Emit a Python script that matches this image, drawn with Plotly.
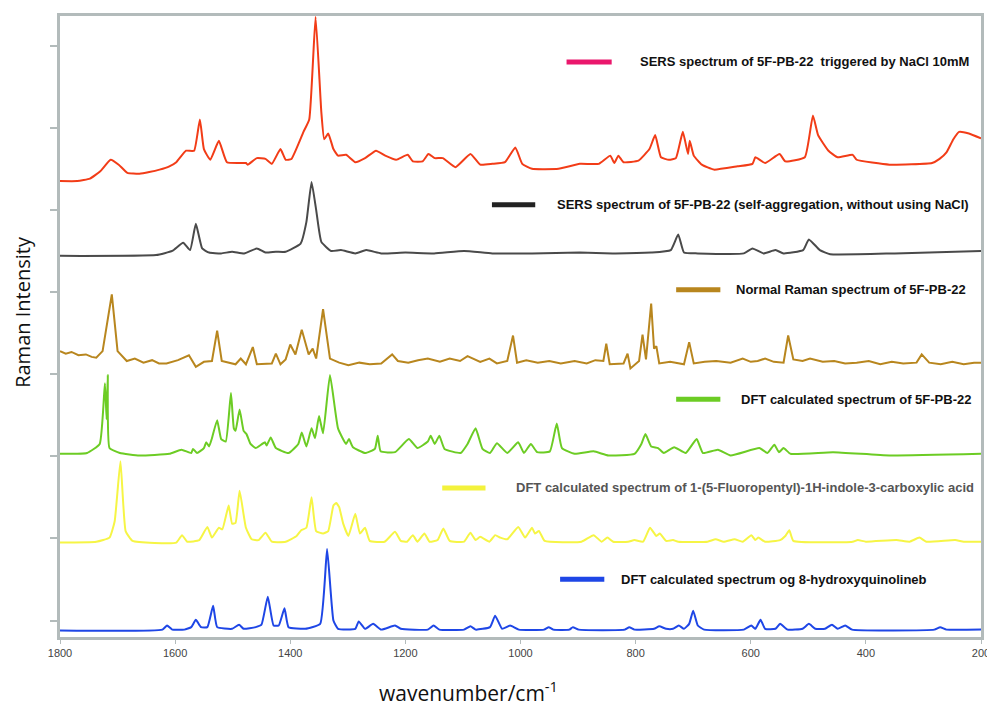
import plotly.graph_objects as go

# ---------------- data ----------------
x_ticks = [1800, 1600, 1400, 1200, 1000, 800, 600, 400, 200]
y_ticks = [0, 1, 2, 3, 4, 5, 6, 7]

red_wn = [1800, 1770, 1748, 1730, 1712, 1698, 1683, 1662, 1645, 1627, 1610, 1598, 1581, 1567,
          1557, 1550, 1539, 1524, 1510, 1477, 1474, 1458, 1443, 1432, 1417, 1408, 1398, 1377,
          1367, 1356, 1346, 1341, 1334, 1325, 1317, 1303, 1287, 1270, 1251, 1235, 1216, 1196,
          1187, 1170, 1160, 1149, 1135, 1113, 1087, 1070, 1049, 1027, 1009, 997, 980, 934, 897,
          864, 844, 837, 830, 821, 795, 776, 766, 756, 742, 730, 718, 709, 706, 699, 685, 664,
          623, 597, 592, 575, 550, 540, 506, 492, 483, 465, 449, 423, 416, 359, 285, 272, 260,
          248, 238, 221, 200]
red_val = [5.35, 5.35, 5.38, 5.47, 5.61, 5.55, 5.45, 5.44, 5.46, 5.49, 5.53, 5.58, 5.72, 5.72,
           6.10, 5.74, 5.61, 5.84, 5.58, 5.57, 5.55, 5.63, 5.62, 5.56, 5.74, 5.61, 5.62, 5.95,
           6.10, 7.35, 6.19, 5.86, 5.93, 5.74, 5.66, 5.67, 5.58, 5.63, 5.72, 5.66, 5.61, 5.67,
           5.59, 5.59, 5.68, 5.63, 5.63, 5.52, 5.68, 5.55, 5.56, 5.58, 5.76, 5.56, 5.50, 5.50,
           5.56, 5.56, 5.66, 5.57, 5.66, 5.58, 5.60, 5.74, 5.91, 5.64, 5.61, 5.63, 5.95, 5.68,
           5.84, 5.66, 5.55, 5.49, 5.53, 5.56, 5.64, 5.57, 5.68, 5.59, 5.64, 6.15, 5.91, 5.72,
           5.64, 5.67, 5.61, 5.55, 5.57, 5.62, 5.70, 5.86, 5.95, 5.93, 5.87]

black_wn = [1800, 1633, 1605, 1586, 1574, 1564, 1553, 1541, 1520, 1501, 1480, 1458, 1443, 1425,
            1408, 1382, 1372, 1363, 1355, 1346, 1329, 1312, 1287, 1268, 1242, 1200, 1150, 1098,
            1049, 980, 897, 840, 773, 739, 726, 716, 692, 612, 597, 578, 557, 543, 509, 499, 480,
            462, 350, 200]
black_val = [4.44, 4.45, 4.50, 4.60, 4.51, 4.83, 4.53, 4.48, 4.47, 4.49, 4.47, 4.53, 4.48, 4.49,
             4.49, 4.59, 4.85, 5.34, 5.00, 4.61, 4.50, 4.51, 4.47, 4.51, 4.47, 4.48, 4.47, 4.50,
             4.47, 4.47, 4.48, 4.47, 4.48, 4.51, 4.70, 4.48, 4.47, 4.47, 4.53, 4.47, 4.51, 4.47,
             4.51, 4.64, 4.51, 4.46, 4.47, 4.50]

brown_wn = [1800, 1790, 1780, 1768, 1755, 1745, 1737, 1726, 1710, 1700, 1684, 1670, 1655, 1640,
            1628, 1615, 1595, 1576, 1564, 1550, 1536, 1527, 1519, 1495, 1486, 1477, 1465, 1458,
            1432, 1425, 1417, 1408, 1400, 1391, 1380, 1368, 1361, 1355, 1343, 1331, 1315, 1299,
            1280, 1262, 1242, 1223, 1213, 1195, 1178, 1161, 1140, 1123, 1105, 1092, 1070, 1054,
            1041, 1023, 1013, 1006, 990, 970, 950, 930, 906, 885, 870, 856, 851, 845, 821, 814,
            809, 794, 788, 782, 773, 768, 764, 759, 740, 716, 707, 699, 680, 660, 635, 614, 600,
            588, 575, 560, 543, 535, 526, 510, 497, 475, 455, 436, 416, 395, 375, 355, 335, 312,
            303, 290, 270, 250, 230, 212, 200]
brown_val = [3.28, 3.25, 3.27, 3.23, 3.24, 3.21, 3.20, 3.28, 3.97, 3.28, 3.16, 3.19, 3.14, 3.17,
             3.13, 3.13, 3.17, 3.23, 3.09, 3.15, 3.16, 3.53, 3.16, 3.12, 3.19, 3.12, 3.33, 3.12,
             3.13, 3.25, 3.12, 3.18, 3.36, 3.24, 3.54, 3.24, 3.31, 3.19, 3.79, 3.19, 3.14, 3.11,
             3.14, 3.12, 3.13, 3.24, 3.16, 3.14, 3.17, 3.19, 3.15, 3.19, 3.16, 3.22, 3.15, 3.19,
             3.13, 3.16, 3.47, 3.14, 3.17, 3.14, 3.16, 3.13, 3.16, 3.13, 3.17, 3.16, 3.37, 3.12,
             3.13, 3.25, 3.07, 3.16, 3.48, 3.18, 3.86, 3.31, 3.34, 3.13, 3.15, 3.12, 3.39, 3.13,
             3.15, 3.16, 3.14, 3.19, 3.15, 3.16, 3.19, 3.15, 3.14, 3.47, 3.18, 3.16, 3.19, 3.15,
             3.16, 3.13, 3.14, 3.16, 3.12, 3.15, 3.13, 3.14, 3.24, 3.14, 3.12, 3.15, 3.12, 3.14,
             3.14]

green_wn = [1800, 1753, 1731, 1722, 1719, 1717, 1714, 1696, 1662, 1610, 1589, 1572, 1569, 1562,
            1550, 1546, 1541, 1536, 1527, 1520, 1512, 1503, 1498, 1495, 1488, 1481, 1476, 1469,
            1460, 1444, 1441, 1434, 1425, 1403, 1386, 1380, 1372, 1363, 1357, 1350, 1343, 1331,
            1317, 1303, 1298, 1291, 1270, 1253, 1248, 1243, 1218, 1194, 1179, 1161, 1156, 1149,
            1141, 1132, 1104, 1092, 1078, 1066, 1053, 1041, 1023, 1004, 994, 982, 971, 949, 937,
            928, 906, 873, 847, 802, 790, 783, 773, 761, 751, 733, 713, 694, 683, 657, 635, 585,
            571, 559, 551, 543, 531, 457, 359, 200]
green_val = [2.03, 2.04, 2.15, 2.89, 2.45, 2.99, 2.10, 2.04, 2.01, 2.03, 2.08, 2.04, 2.09, 2.04,
             2.10, 2.17, 2.12, 2.22, 2.44, 2.21, 2.18, 2.77, 2.34, 2.31, 2.57, 2.31, 2.27, 2.15,
             2.10, 2.17, 2.13, 2.23, 2.10, 2.04, 2.15, 2.29, 2.12, 2.34, 2.22, 2.49, 2.28, 2.99,
             2.34, 2.15, 2.21, 2.11, 2.04, 2.09, 2.25, 2.06, 2.05, 2.21, 2.10, 2.18, 2.25, 2.15,
             2.25, 2.09, 2.04, 2.15, 2.34, 2.09, 2.04, 2.16, 2.04, 2.17, 2.04, 2.15, 2.05, 2.06,
             2.40, 2.10, 2.03, 2.06, 2.01, 2.03, 2.15, 2.27, 2.12, 2.10, 2.04, 2.11, 2.04, 2.21,
             2.04, 2.08, 2.01, 2.10, 2.04, 2.14, 2.05, 2.10, 2.03, 2.05, 2.01, 2.03]

yellow_wn = [1800, 1737, 1714, 1705, 1695, 1686, 1674, 1598, 1588, 1579, 1558, 1544, 1536, 1524,
             1518, 1507, 1501, 1495, 1488, 1477, 1467, 1455, 1443, 1432, 1408, 1389, 1381, 1372,
             1363, 1355, 1343, 1334, 1325, 1320, 1315, 1308, 1299, 1287, 1279, 1270, 1262, 1236,
             1218, 1208, 1197, 1187, 1179, 1167, 1158, 1144, 1134, 1123, 1098, 1087, 1078, 1070,
             1054, 1044, 1035, 1023, 1004, 992, 980, 975, 968, 958, 894, 873, 859, 849, 839, 813,
             802, 787, 775, 764, 758, 747, 735, 726, 675, 661, 647, 628, 614, 599, 592, 587, 575,
             549, 540, 533, 526, 423, 414, 400, 347, 324, 307, 295, 245, 230, 200]
yellow_val = [0.95, 0.96, 1.01, 1.21, 1.94, 1.09, 0.97, 0.95, 1.04, 0.96, 0.98, 1.14, 1.01, 1.13,
              1.11, 1.40, 1.18, 1.19, 1.58, 1.13, 0.99, 0.98, 1.07, 0.96, 0.96, 1.03, 1.10, 1.13,
              1.50, 1.09, 1.06, 1.09, 1.40, 1.43, 1.38, 1.18, 1.03, 1.30, 1.06, 1.13, 0.97, 0.96,
              1.08, 0.97, 0.96, 1.04, 0.96, 1.06, 0.96, 0.98, 1.12, 0.97, 0.96, 1.07, 0.98, 1.02,
              0.96, 1.04, 1.01, 0.99, 1.14, 1.01, 1.13, 1.06, 1.09, 0.97, 0.96, 1.04, 0.96, 1.01,
              0.96, 0.96, 0.98, 0.96, 1.13, 1.03, 1.06, 0.97, 0.98, 0.96, 0.96, 0.99, 0.96, 0.99,
              0.96, 1.04, 0.98, 1.01, 0.96, 0.98, 1.03, 1.10, 0.97, 0.96, 0.98, 0.96, 0.98, 0.96,
              1.01, 0.96, 0.98, 0.96, 0.96]

blue_wn = [1800, 1622, 1614, 1605, 1584, 1572, 1564, 1555, 1544, 1534, 1527, 1501, 1489, 1481,
           1460, 1450, 1439, 1429, 1420, 1410, 1403, 1374, 1348, 1336, 1325, 1317, 1287, 1281,
           1270, 1256, 1242, 1218, 1208, 1161, 1151, 1141, 1098, 1087, 1078, 1053, 1044, 1032,
           1018, 1003, 959, 951, 943, 915, 909, 899, 819, 811, 802, 768, 759, 747, 735, 725, 716,
           707, 700, 692, 681, 612, 599, 592, 583, 575, 557, 549, 536, 510, 499, 488, 471, 459,
           449, 436, 424, 281, 271, 260, 200]
blue_val = [-0.12, -0.11, -0.06, -0.11, -0.11, -0.08, 0.01, -0.08, -0.08, 0.18, -0.08, -0.10,
            -0.05, -0.10, -0.08, -0.05, 0.29, -0.06, -0.06, 0.15, -0.08, -0.10, -0.04, 0.87, 0.00,
            -0.10, -0.10, -0.01, -0.10, -0.04, -0.11, -0.06, -0.10, -0.11, -0.06, -0.11, -0.11,
            -0.07, -0.11, -0.08, 0.06, -0.10, -0.06, -0.11, -0.11, -0.08, -0.11, -0.11, -0.08,
            -0.11, -0.11, -0.08, -0.11, -0.10, -0.07, -0.10, -0.10, -0.06, -0.10, -0.04, 0.12,
            -0.06, -0.11, -0.11, -0.06, -0.10, 0.01, -0.10, -0.10, -0.04, -0.11, -0.10, -0.04,
            -0.10, -0.10, -0.05, -0.10, -0.06, -0.11, -0.11, -0.08, -0.11, -0.11]

labels = [
    "SERS spectrum of 5F-PB-22  triggered by NaCl 10mM",
    "SERS spectrum of 5F-PB-22 (self-aggregation, without using NaCl)",
    "Normal Raman spectrum of 5F-PB-22",
    "DFT calculated spectrum of 5F-PB-22",
    "DFT calculated spectrum of 1-(5-Fluoropentyl)-1H-indole-3-carboxylic acid",
    "DFT calculated spectrum og 8-hydroxyquinolineb",
]

# ---------------- styling ----------------
line_colors = ["#f23c17", "#4a4a4a", "#b8861e", "#6ccc24", "#f6f545", "#1e46e6"]
line_shapes = ["spline", "spline", "linear", "spline", "spline", "spline"]
key_colors = ["#ea176c", "#222222", "#b8861e", "#6ccc24", "#f3f23c", "#1e46e6"]
text_colors = ["#111111", "#111111", "#111111", "#111111", "#555555", "#111111"]
# legend key positions in paper coordinates: (x0, x1, y, text_right_x)
key_pos = [
    (0.550, 0.599, 0.926, 0.989),
    (0.469, 0.516, 0.696, 0.989),
    (0.669, 0.717, 0.559, 0.986),
    (0.669, 0.717, 0.383, 0.991),
    (0.415, 0.462, 0.240, 0.995),
    (0.543, 0.591, 0.093, 0.944),
]

series = [(red_wn, red_val), (black_wn, black_val), (brown_wn, brown_val),
          (green_wn, green_val), (yellow_wn, yellow_val), (blue_wn, blue_val)]

fig = go.Figure()
for (wn, val), col, shp, name in zip(series, line_colors, line_shapes, labels):
    fig.add_trace(go.Scatter(x=wn, y=val, mode="lines", name=name,
                             line=dict(color=col, width=2, shape=shp, smoothing=0.4),
                             showlegend=False))

label_font = "Liberation Sans, Arial, sans-serif"
for (x0, x1, y, tx), kc, tc, lab in zip(key_pos, key_colors, text_colors, labels):
    fig.add_shape(type="line", xref="paper", yref="paper", x0=x0, x1=x1, y0=y, y1=y,
                  line=dict(color=kc, width=5))
    fig.add_annotation(xref="paper", yref="paper", x=tx, y=y, text="<b>%s</b>" % lab,
                       showarrow=False, xanchor="right", yanchor="middle",
                       font=dict(family=label_font, size=13, color=tc))

fig.add_annotation(xref="paper", yref="paper", x=-0.041, y=0.524, text="Raman Intensity",
                   textangle=-90, showarrow=False, xanchor="center", yanchor="middle",
                   font=dict(family="Open Sans, sans-serif", size=20, color="#111111"))
fig.add_annotation(xref="paper", yref="paper", x=0.443, y=-0.087,
                   text="wavenumber/cm<sup>-1</sup>", showarrow=False,
                   xanchor="center", yanchor="middle",
                   font=dict(family="Open Sans, sans-serif", size=21, color="#111111"))

axis_gray = "#b3bbbb"
# the page body keeps its default 8px margin, so the figure sits at (8, 8)
# and ends exactly at the window's right/bottom edges
fig.update_layout(
    width=987, height=698,
    margin=dict(l=52, r=8, t=5, b=69),
    paper_bgcolor="white", plot_bgcolor="white",
    xaxis=dict(range=[1800, 200], tickvals=x_ticks, ticktext=[str(v) for v in x_ticks],
               showgrid=False, zeroline=False, showline=True, linecolor=axis_gray,
               linewidth=3, mirror=True, ticks="outside", ticklen=4, tickcolor=axis_gray,
               ticklabeloverflow="allow",
               tickfont=dict(family="Liberation Sans, Arial, sans-serif", size=11,
                             color="#444444")),
    yaxis=dict(range=[-0.2, 7.36], tickvals=y_ticks, showticklabels=False,
               showgrid=False, zeroline=False, showline=True, linecolor=axis_gray,
               linewidth=3, mirror=True, ticks="outside", ticklen=7, tickwidth=2,
               tickcolor=axis_gray),
)

fig.write_html("out.html", config={"displayModeBar": False})
